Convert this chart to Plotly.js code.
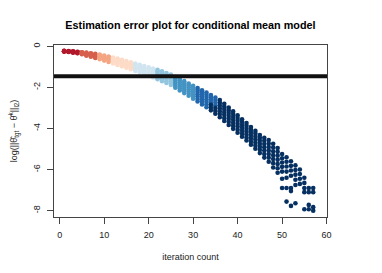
<!DOCTYPE html>
<html>
<head>
<meta charset="utf-8">
<script src="https://cdn.plot.ly/plotly-3.0.1.min.js"></script>
<style>html,body{margin:0;padding:0;background:#fff;}#chart{width:382px;height:273px;}</style>
</head>
<body>
<div id="chart"></div>
<script>
// iteration counts
const iterations = [1,2,3,4,5,6,7,8,9,10,11,12,13,14,15,16,17,18,19,20,21,22,23,24,25,26,27,28,29,30,31,32,33,34,35,36,37,38,39,40,41,42,43,44,45,46,47,48,49,50,51,52,53,54,55,56,57];
// log estimation error for each replicate run (top to bottom)
const run1 = [-0.22,-0.24,-0.25,-0.27,-0.29,-0.31,-0.34,-0.37,-0.41,-0.45,-0.50,-0.55,-0.60,-0.66,-0.72,-0.78,-0.84,-0.90,-0.96,-1.02,-1.08,-1.15,-1.22,-1.30,-1.38,-1.50,-1.60,-1.70,-1.81,-1.92,-2.03,-2.14,-2.25,-2.37,-2.50,-2.62,-2.80,-2.98,-3.17,-3.36,-3.55,-3.74,-3.93,-4.12,-4.32,-4.45,-4.56,-4.75,-4.95,-5.25,-5.40,-5.60,-5.80,-6.00,-6.40,-6.90,-6.90];
const run2 = [-0.23,-0.25,-0.26,-0.28,-0.30,-0.33,-0.36,-0.40,-0.44,-0.49,-0.54,-0.59,-0.65,-0.71,-0.77,-0.83,-0.89,-0.96,-1.02,-1.08,-1.15,-1.22,-1.29,-1.37,-1.46,-1.58,-1.68,-1.79,-1.90,-2.01,-2.13,-2.24,-2.36,-2.48,-2.62,-2.75,-2.93,-3.11,-3.30,-3.49,-3.68,-3.87,-4.06,-4.25,-4.45,-4.60,-4.73,-4.93,-5.14,-5.45,-5.62,-5.82,-6.02,-6.22,-6.65,-7.10,-7.10];
const run3 = [-0.24,-0.25,-0.27,-0.29,-0.32,-0.35,-0.39,-0.43,-0.47,-0.53,-0.58,-0.64,-0.70,-0.76,-0.82,-0.88,-0.95,-1.02,-1.08,-1.15,-1.22,-1.29,-1.37,-1.45,-1.54,-1.66,-1.77,-1.88,-1.99,-2.11,-2.23,-2.35,-2.47,-2.60,-2.74,-2.88,-3.06,-3.25,-3.44,-3.63,-3.82,-4.01,-4.20,-4.39,-4.59,-4.76,-4.90,-5.11,-5.33,-5.66,-5.85,-6.05,-6.25,-6.45,-6.90,null,null];
const run4 = [-0.24,-0.26,-0.28,-0.30,-0.33,-0.37,-0.41,-0.46,-0.51,-0.57,-0.62,-0.68,-0.74,-0.81,-0.87,-0.94,-1.01,-1.08,-1.15,-1.22,-1.29,-1.37,-1.45,-1.53,-1.62,-1.75,-1.86,-1.97,-2.09,-2.21,-2.34,-2.46,-2.59,-2.72,-2.87,-3.02,-3.20,-3.39,-3.58,-3.77,-3.96,-4.15,-4.34,-4.53,-4.74,-4.92,-5.07,-5.30,-5.53,-5.87,-6.10,-6.30,-6.50,-6.70,-7.10,null,null];
const run5 = [-0.25,-0.27,-0.29,-0.31,-0.35,-0.40,-0.44,-0.49,-0.55,-0.61,-0.67,-0.73,-0.79,-0.86,-0.93,-1.00,-1.07,-1.14,-1.22,-1.29,-1.37,-1.45,-1.53,-1.61,-1.71,-1.84,-1.95,-2.07,-2.19,-2.32,-2.45,-2.58,-2.71,-2.85,-3.00,-3.16,-3.34,-3.53,-3.72,-3.91,-4.10,-4.29,-4.48,-4.68,-4.89,-5.08,-5.25,-5.49,-5.73,-6.10,-6.40,-6.90,-6.75,null,null,null,null];
const run6 = [-0.25,-0.27,-0.30,-0.33,-0.37,-0.43,-0.47,-0.53,-0.59,-0.65,-0.72,-0.78,-0.85,-0.92,-0.99,-1.06,-1.13,-1.21,-1.29,-1.36,-1.44,-1.53,-1.61,-1.70,-1.80,-1.93,-2.05,-2.17,-2.30,-2.43,-2.57,-2.70,-2.84,-2.98,-3.14,-3.30,-3.49,-3.68,-3.87,-4.06,-4.25,-4.44,-4.63,-4.83,-5.04,-5.25,-5.43,-5.69,-5.94,-6.45,-6.90,-7.05,null,null,null,-7.72,-7.83];
const run7 = [-0.26,-0.28,-0.31,-0.34,-0.39,-0.46,-0.51,-0.57,-0.63,-0.70,-0.77,-0.84,-0.91,-0.98,-1.05,-1.12,-1.20,-1.28,-1.36,-1.44,-1.52,-1.61,-1.70,-1.79,-1.89,-2.02,-2.15,-2.28,-2.41,-2.55,-2.69,-2.83,-2.97,-3.12,-3.28,-3.45,-3.64,-3.83,-4.02,-4.21,-4.40,-4.59,-4.79,-4.99,-5.20,-5.42,-5.62,-5.90,-6.16,-6.90,-7.56,-7.77,-7.64,null,-7.93,-7.93,-8.00];
const runs = [run1, run2, run3, run4, run5, run6, run7];
// colour group (RdBu palette) by iteration: first iteration of each group
const groupStart = [1, 5, 9, 12, 17, 22, 26, 31, 36];
const groupColors = ['#B2182B','#D6604D','#F4A582','#FDDBC7','#D1E5F0','#92C5DE','#4393C3','#2166AC','#053061'];
// reference level drawn as a thick horizontal line
const refLevel = [-1.46];
const xTicks = [0,10,20,30,40,50,60];
const yTicks = [0,-2,-4,-6,-8];
const yTickText = ['0','-2','-4','-6','-8'];

function groupOf(k, r) {
  let g = 0;
  for (let i = 0; i < groupStart.length; i++) if (k >= groupStart[i]) g = i;
  // the lower replicates of iterations 34-35 already fall in the darkest group
  if ((k === 34 || k === 35) && r >= 4) g = 8;
  return g;
}

const traces = groupColors.map((c) => ({x: [], y: [], type: 'scatter', mode: 'markers',
  marker: {color: c, size: 4.6, line: {width: 0}}, hoverinfo: 'skip', showlegend: false}));
iterations.forEach((k, i) => {
  runs.forEach((run, r) => {
    const v = run[i];
    if (v === null || v === undefined) return;
    const g = groupOf(k, r);
    traces[g].x.push(k);
    traces[g].y.push(v);
  });
});

const layout = {
  width: 382, height: 273,
  margin: {l: 54, r: 55, t: 45, b: 56, pad: 0},
  paper_bgcolor: '#fff', plot_bgcolor: '#fff',
  font: {family: 'Liberation Sans, Arial, sans-serif', size: 9, color: '#000'},
  title: {text: '<b>Estimation error plot for conditional mean model</b>', font: {size: 10.8, color: '#000'},
    x: 0.4985, xanchor: 'center', y: 0.907, yanchor: 'middle'},
  xaxis: {range: [-1.28, 60.1], tickvals: xTicks, ticktext: xTicks.map(String), ticks: 'outside', ticklen: 6,
    tickcolor: '#444', showgrid: false, zeroline: false, showline: true, mirror: true, linecolor: '#444', linewidth: 1,
    ticklabelstandoff: 3,
    tickfont: {size: 9, color: '#222'}, title: {text: 'iteration count', font: {size: 9, color: '#222'}, standoff: 14}},
  yaxis: {range: [-8.31, 0.06], tickvals: yTicks, ticktext: yTickText, ticks: 'outside', ticklen: 6, tickangle: -90,
    tickcolor: '#444', showgrid: false, zeroline: false, showline: true, mirror: true, linecolor: '#444', linewidth: 1,
    ticklabelstandoff: 3,
    tickfont: {size: 9, color: '#222'},
    title: {text: 'log(||θ\u0302<sub>tgt</sub> − θ\u0302<sup>k</sup>||<sub>l2</sub>)', font: {size: 9, color: '#222'}, standoff: 13}},
  shapes: refLevel.map((v) => ({type: 'line', xref: 'paper', x0: 0, x1: 1, yref: 'y', y0: v, y1: v,
    line: {color: '#111', width: 4}, layer: 'above'}))
};

Plotly.newPlot('chart', traces, layout, {displayModeBar: false, staticPlot: true});
</script>
</body>
</html>
